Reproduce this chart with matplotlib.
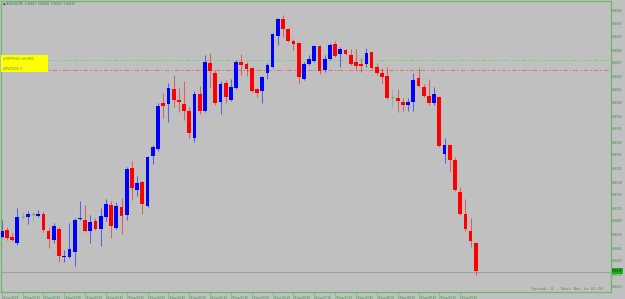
import matplotlib
matplotlib.use("Agg")
import matplotlib.pyplot as plt
from matplotlib.patches import Rectangle

symbol = "AUDUSD,M5"

opens = [0.66673, 0.66680, 0.66673, 0.66667, 0.66693, 0.66693, 0.66696, 0.66694, 0.66696, 0.66679,
         0.66670, 0.66681, 0.66653, 0.66653, 0.66658, 0.66691, 0.66690, 0.66679, 0.66689, 0.66681,
         0.66693, 0.66705, 0.66682, 0.66703, 0.66695, 0.66742, 0.66720, 0.66728, 0.66704, 0.66754,
         0.66761, 0.66807, 0.66806, 0.66821, 0.66810, 0.66806, 0.66799, 0.66772, 0.66816, 0.66799,
         0.66847, 0.66837, 0.66808, 0.66827, 0.66810, 0.66822, 0.66848, 0.66846, 0.66842, 0.66821,
         0.66819, 0.66837, 0.66843, 0.66874, 0.66891, 0.66881, 0.66869, 0.66867, 0.66831, 0.66846,
         0.66849, 0.66864, 0.66840, 0.66851, 0.66866, 0.66856, 0.66860, 0.66855, 0.66848, 0.66846,
         0.66846, 0.66858, 0.66843, 0.66837, 0.66834, 0.66813, 0.66812, 0.66808, 0.66805, 0.66808,
         0.66832, 0.66823, 0.66814, 0.66807, 0.66813, 0.66756, 0.66765, 0.66750, 0.66718, 0.66696,
         0.66679, 0.66667]
highs = [0.66690, 0.66683, 0.66677, 0.66702, 0.66698, 0.66699, 0.66698, 0.66700, 0.66698, 0.66682,
         0.66687, 0.66683, 0.66660, 0.66687, 0.66692, 0.66709, 0.66705, 0.66695, 0.66692, 0.66702,
         0.66711, 0.66709, 0.66708, 0.66712, 0.66743, 0.66749, 0.66734, 0.66729, 0.66754, 0.66765,
         0.66807, 0.66817, 0.66827, 0.66835, 0.66822, 0.66829, 0.66803, 0.66819, 0.66824, 0.66855,
         0.66857, 0.66840, 0.66829, 0.66830, 0.66831, 0.66850, 0.66856, 0.66848, 0.66843, 0.66822,
         0.66834, 0.66847, 0.66877, 0.66892, 0.66895, 0.66882, 0.66871, 0.66868, 0.66848, 0.66855,
         0.66865, 0.66865, 0.66855, 0.66867, 0.66869, 0.66863, 0.66861, 0.66861, 0.66861, 0.66852,
         0.66862, 0.66859, 0.66847, 0.66842, 0.66843, 0.66821, 0.66821, 0.66812, 0.66812, 0.66837,
         0.66842, 0.66826, 0.66831, 0.66823, 0.66814, 0.66772, 0.66766, 0.66753, 0.66723, 0.66711,
         0.66692, 0.66668]
lows = [0.66672, 0.66670, 0.66669, 0.66665, 0.66692, 0.66686, 0.66688, 0.66693, 0.66678, 0.66662,
        0.66667, 0.66648, 0.66648, 0.66652, 0.66644, 0.66690, 0.66678, 0.66667, 0.66680, 0.66664,
        0.66689, 0.66672, 0.66681, 0.66676, 0.66690, 0.66710, 0.66714, 0.66696, 0.66703, 0.66746,
        0.66759, 0.66792, 0.66788, 0.66803, 0.66798, 0.66790, 0.66772, 0.66768, 0.66796, 0.66798,
        0.66823, 0.66805, 0.66796, 0.66807, 0.66809, 0.66821, 0.66835, 0.66834, 0.66818, 0.66813,
        0.66807, 0.66831, 0.66842, 0.66865, 0.66873, 0.66868, 0.66860, 0.66827, 0.66830, 0.66845,
        0.66848, 0.66836, 0.66838, 0.66850, 0.66853, 0.66843, 0.66855, 0.66845, 0.66840, 0.66838,
        0.66843, 0.66841, 0.66835, 0.66827, 0.66811, 0.66803, 0.66798, 0.66799, 0.66799, 0.66799,
        0.66823, 0.66813, 0.66805, 0.66805, 0.66763, 0.66747, 0.66738, 0.66719, 0.66695, 0.66679,
        0.66663, 0.66635]
closes = [0.66679, 0.66672, 0.66670, 0.66693, 0.66693, 0.66696, 0.66696, 0.66696, 0.66680, 0.66671,
          0.66684, 0.66654, 0.66654, 0.66661, 0.66690, 0.66692, 0.66679, 0.66688, 0.66681, 0.66694,
          0.66706, 0.66684, 0.66704, 0.66694, 0.66741, 0.66722, 0.66727, 0.66706, 0.66753, 0.66763,
          0.66804, 0.66804, 0.66822, 0.66810, 0.66808, 0.66799, 0.66777, 0.66816, 0.66799, 0.66848,
          0.66839, 0.66807, 0.66826, 0.66813, 0.66823, 0.66848, 0.66845, 0.66841, 0.66819, 0.66817,
          0.66833, 0.66845, 0.66876, 0.66891, 0.66881, 0.66869, 0.66866, 0.66833, 0.66846, 0.66851,
          0.66864, 0.66839, 0.66851, 0.66865, 0.66854, 0.66861, 0.66856, 0.66846, 0.66844, 0.66844,
          0.66857, 0.66842, 0.66837, 0.66833, 0.66812, 0.66813, 0.66809, 0.66805, 0.66808, 0.66830,
          0.66824, 0.66814, 0.66807, 0.66816, 0.66764, 0.66765, 0.66750, 0.66720, 0.66696, 0.66681,
          0.66669, 0.66639]

time_labels = ["26 Jun 2023", "26 Jun 02:25", "26 Jun 02:45", "26 Jun 03:05", "26 Jun 03:25",
               "26 Jun 03:45", "26 Jun 04:05", "26 Jun 04:25", "26 Jun 04:45", "26 Jun 05:05",
               "26 Jun 05:25", "26 Jun 05:45", "26 Jun 06:05", "26 Jun 06:25", "26 Jun 06:45",
               "26 Jun 07:05", "26 Jun 07:25", "26 Jun 07:45", "26 Jun 08:05", "26 Jun 08:25",
               "26 Jun 08:45", "26 Jun 09:05", "26 Jun 09:25"]

price_ticks = [0.66900, 0.66887, 0.66874, 0.66860, 0.66847, 0.66834, 0.66821, 0.66808,
               0.66794, 0.66781, 0.66768, 0.66755, 0.66742, 0.66728, 0.66715, 0.66702,
               0.66689, 0.66676, 0.66662, 0.66649, 0.66636, 0.66623]

level_green = 0.66850
level_red = 0.66840
bid = 0.66638
box_lines = ["#TOPIPS(H1) m0.0000", "#PIVOT(D1) 0"]
spread_text = "Spread: 0 . Next Bar in 01:55"

W, H = 625, 299
BG = "#c0c0c0"
FRAME = "#6cb86c"
TXT = "#3a8a3a"
YMIN, YMAX = 0.66618, 0.669095

fig = plt.figure(figsize=(W / 100, H / 100), dpi=100)
fig.patch.set_facecolor(BG)
ax = fig.add_axes([1 / W, 7 / H, 609.5 / W, 291.5 / H])
ax.set_facecolor(BG)

step = 5.21
ax.set_xlim((1 - 1.7) / step, (610.5 - 1.7) / step)
ax.set_ylim(YMIN, YMAX)

n = len(opens)
xs = list(range(n))
up_c, dn_c, dj_c = "#0000ff", "#ff0000", "#6fae6f"
cols = []
for o, c in zip(opens, closes):
    cols.append(up_c if c > o else (dn_c if c < o else dj_c))

ax.vlines(xs, lows, highs, colors=cols, linewidth=0.75, alpha=0.5, zorder=2)
bottoms = [min(o, c) for o, c in zip(opens, closes)]
heights = [abs(c - o) for o, c in zip(opens, closes)]
ax.bar(xs, heights, width=0.72, bottom=bottoms, color=cols, linewidth=0, zorder=3)
for x, o, c, col in zip(xs, opens, closes, cols):
    if o == c:
        ax.hlines(o, x - 0.36, x + 0.36, colors=col, linewidth=0.8, zorder=3)

# horizontal levels
ax.axhline(level_green, color="#7fd07f", linewidth=0.7, linestyle=(0, (5, 2, 1.5, 2)), zorder=1)
ax.axhline(level_red, color="#e87070", linewidth=0.7, linestyle=(0, (5, 2, 1.5, 2)), zorder=1)
ax.axhline(bid, color="#9c9cac", linewidth=0.8, zorder=1)

# frame
for s in ax.spines.values():
    s.set_color(FRAME)
    s.set_linewidth(0.9)

# y axis right
ax.yaxis.tick_right()
ax.set_yticks(price_ticks)
ax.set_yticklabels([f"{p:.5f}" for p in price_ticks])
ax.tick_params(axis="y", direction="out", length=1.0, width=0.5, color=FRAME,
               labelsize=1.9, labelcolor=TXT, pad=0.1)
ax.set_xticks(xs[::4])
ax.set_xticklabels(time_labels, ha="left")
ax.tick_params(axis="x", direction="out", length=2.5, width=0.5, color=FRAME,
               labelsize=2.0, labelcolor=TXT, pad=0.3)

# bid label highlighted
ax.text(1.003, (bid + 0.00001 - YMIN) / (YMAX - YMIN), f"{closes[-1]:.5f}",
        transform=ax.transAxes, ha="left", va="center", fontsize=1.9, color="#0a3a0a",
        bbox=dict(boxstyle="square,pad=0.2", fc="#1faa1f", ec="none"), zorder=10, clip_on=False)

# title
fig.text(3 / W, 1 - 4 / H, "\u25a0 " + symbol + "  " + "  ".join(f"{v:.5f}" for v in
         (opens[-1], highs[-1], lows[-1], closes[-1])),
         ha="left", va="center", fontsize=2.0, color="#4a6a4a")

# yellow box
fig.patches.append(Rectangle((1 / W, 1 - 72 / H), 47 / W, 17 / H, transform=fig.transFigure,
                             fc="#ffff00", ec="none", zorder=5))
fig.text(3 / W, 1 - 58.7 / H, box_lines[0], ha="left", va="center", fontsize=2.0, color="#4a8a2a", zorder=6)
fig.text(3 / W, 1 - 69 / H, box_lines[1], ha="left", va="center", fontsize=2.0, color="#4a8a2a", zorder=6)

# spread text
fig.text(531 / W, 1 - 289 / H, spread_text, ha="left", va="center", fontsize=3.1,
         family="DejaVu Sans Mono", color="#7a7a7a")

fig.savefig("out.png", dpi=100, facecolor=BG)
